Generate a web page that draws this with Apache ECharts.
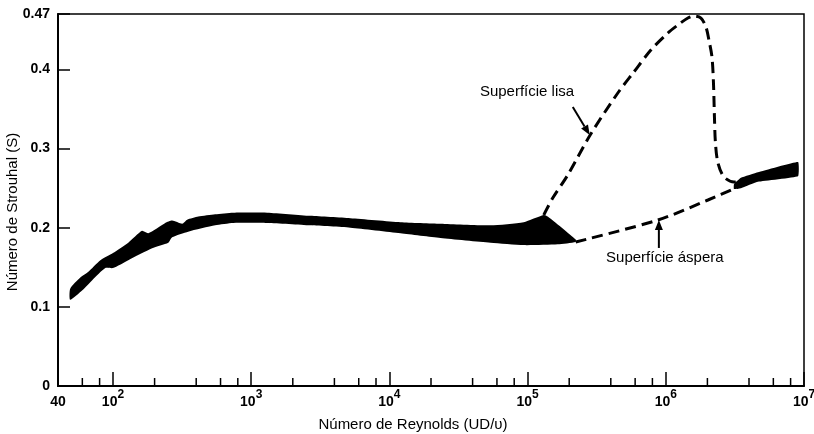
<!DOCTYPE html>
<html><head><meta charset="utf-8">
<script src="https://cdn.jsdelivr.net/npm/echarts@6/dist/echarts.min.js"></script>
<style>html,body{margin:0;padding:0;background:#fff}#c{width:814px;height:434px}</style>
</head><body><div id="c"></div>
<script>
// ---- data (Reynolds number, Strouhal number) ----
const bandUpperRe = [49, 58, 66, 81, 100, 129, 162, 180, 239, 268, 317, 344, 414, 549, 741, 1308, 2680, 5222, 12030, 23450, 53980, 93700, 130800, 139900, 222900];
const bandUpperS  = [0.123, 0.137, 0.144, 0.159, 0.168, 0.181, 0.196, 0.193, 0.206, 0.209, 0.205, 0.210, 0.214, 0.217, 0.219, 0.219, 0.215, 0.212, 0.207, 0.205, 0.203, 0.207, 0.216, 0.214, 0.185];
const bandLowerRe = [49, 60, 71, 88, 100, 129, 192, 251, 268, 350, 549, 741, 1308, 2680, 5222, 12030, 23450, 53980, 93700, 165200, 222900];
const bandLowerS  = [0.109, 0.121, 0.134, 0.149, 0.149, 0.159, 0.174, 0.181, 0.188, 0.195, 0.203, 0.206, 0.206, 0.203, 0.200, 0.193, 0.187, 0.181, 0.178, 0.179, 0.182];

const highBandRe     = [3114000, 3499000, 4647000, 9058000];
const highBandUpperS = [0.255, 0.263, 0.270, 0.283];
const highBandLowerS = [0.249, 0.250, 0.258, 0.265];

const smoothRe = [130900, 152000, 195200, 286500, 449600, 587100, 779700, 1035000, 1223000, 1445000, 1597000, 1796000, 1952000, 2052000, 2158000, 2213000, 2249000, 2287000, 2385000, 2635000, 3114000, 3499000];
const smoothS  = [0.216, 0.2375, 0.2666, 0.3184, 0.3702, 0.3967, 0.4245, 0.446, 0.4561, 0.4649, 0.4675, 0.4649, 0.4536, 0.4371, 0.4157, 0.3828, 0.3399, 0.307, 0.2817, 0.2641, 0.2577, 0.259];

const roughRe = [222900, 876700, 2018000, 3329000];
const roughS  = [0.182, 0.2097, 0.235, 0.2514];

const minorTickRe = [60, 80, 200, 400, 600, 800, 2000, 4000, 6000, 8000, 20000, 40000, 60000, 80000,
  200000, 400000, 600000, 800000, 2000000, 4000000, 6000000, 8000000];

const xTickValues = [40, 1e2, 1e3, 1e4, 1e5, 1e6, 1e7];
const xTickLabels = ['40', '10|2', '10|3', '10|4', '10|5', '10|6', '10|7'];
const yTickValues = [0, 0.1, 0.2, 0.3, 0.4, 0.47];
const yTickLabels = ['0', '0.1', '0.2', '0.3', '0.4', '0.47'];

const annoLabels  = ['Superfície lisa', 'Superfície áspera'];
const annoRe      = [99000, 984000];
const annoS       = [0.3714, 0.1617];
const arrowFromRe = [212300, 891000];
const arrowFromS  = [0.3525, 0.1744];
const arrowToRe   = [281600, 891000];
const arrowToS    = [0.3171, 0.2097];

const FONT = '"Liberation Sans", Arial, Helvetica, sans-serif';

function nearestIdx(arr, v, log) {
  let best = 0, bd = Infinity;
  arr.forEach((a, i) => { const d = log ? Math.abs(Math.log10(a) - Math.log10(v)) : Math.abs(a - v); if (d < bd) { bd = d; best = i; } });
  return best;
}

function polygonItem(upRe, upS, loRe, loS, sm) {
  return function (params, api) {
    const pts = [];
    for (let i = 0; i < upRe.length; i++) pts.push(api.coord([upRe[i], upS[i]]));
    for (let i = loRe.length - 1; i >= 0; i--) pts.push(api.coord([loRe[i], loS[i]]));
    return { type: 'polygon', shape: { points: pts, smooth: sm }, style: { fill: '#000' } };
  };
}

const chart = echarts.init(document.getElementById('c'), null, { renderer: 'canvas' });
chart.setOption({
  animation: false,
  backgroundColor: '#fff',
  grid: { left: 58, right: 10, top: 14, bottom: 48, containLabel: false, outerBoundsMode: 'none',
    show: true, borderColor: '#000', borderWidth: 1.5, backgroundColor: 'transparent' },
  xAxis: {
    type: 'log', logBase: 10, min: 40, max: 1e7,
    name: 'Número de Reynolds (UD/υ)', nameLocation: 'middle', nameGap: 31, nameMoveOverlap: false,
    nameTextStyle: { fontFamily: FONT, fontSize: 15, color: '#000', padding: [0, 36, 0, 0] },
    axisLine: { show: true, lineStyle: { color: '#000', width: 2 } },
    axisTick: { show: true, inside: true, length: 14, lineStyle: { color: '#000', width: 1.5 } },
    minorTick: { show: false },
    splitLine: { show: false },
    axisLabel: {
      show: true, margin: 9, showMinLabel: true, showMaxLabel: true,
      formatter: function (v) {
        const lab = xTickLabels[nearestIdx(xTickValues, v, true)];
        const parts = lab.split('|');
        if (parts.length === 1) return '{c|' + parts[0] + '}';
        return '{b|' + parts[0] + '}{s|' + parts[1] + '}';
      },
      rich: {
        b: { fontFamily: FONT, fontSize: 14, fontWeight: 'bold', lineHeight: 14, color: '#000', verticalAlign: 'bottom' },
        c: { fontFamily: FONT, fontSize: 14, fontWeight: 'bold', lineHeight: 14, color: '#000', verticalAlign: 'bottom', padding: [6, 0, 0, 0] },
        s: { fontFamily: FONT, fontSize: 12, fontWeight: 'bold', lineHeight: 12, color: '#000', verticalAlign: 'bottom', padding: [0, 0, 8, 0] }
      }
    }
  },
  yAxis: {
    type: 'value', min: 0, max: 0.47, interval: 0.1,
    name: 'Número de Strouhal (S)', nameLocation: 'middle', nameGap: 38, nameMoveOverlap: false,
    nameTextStyle: { fontFamily: FONT, fontSize: 15, color: '#000', padding: [0, 24, 0, 0] },
    axisLine: { show: true, lineStyle: { color: '#000', width: 2 } },
    axisTick: { show: true, inside: true, length: 12, lineStyle: { color: '#000', width: 1.5 } },
    splitLine: { show: false },
    axisLabel: {
      show: true, margin: 8, showMinLabel: true, showMaxLabel: true,
      fontFamily: FONT, fontSize: 14, fontWeight: 'bold', color: '#000',
      formatter: function (v) { return yTickLabels[nearestIdx(yTickValues, v, false)]; }
    }
  },
  series: [
    {
      type: 'custom', name: 'band', silent: true,
      data: [[1000, 0.2]],
      renderItem: polygonItem(bandUpperRe, bandUpperS, bandLowerRe, bandLowerS, 0.2),
      z: 3
    },
    {
      type: 'custom', name: 'band2', silent: true,
      data: [[5e6, 0.27]],
      renderItem: polygonItem(highBandRe, highBandUpperS, highBandRe, highBandLowerS, 0.1),
      z: 3
    },
    {
      type: 'line', name: 'Superfície lisa', silent: true,
      data: smoothRe.map((r, i) => [r, smoothS[i]]),
      symbol: 'none', smooth: 0.3,
      lineStyle: { color: '#000', width: 3, type: [11, 6] },
      z: 2
    },
    {
      type: 'line', name: 'Superfície áspera', silent: true,
      data: roughRe.map((r, i) => [r, roughS[i]]),
      symbol: 'none', smooth: 0.3,
      lineStyle: { color: '#000', width: 3, type: [11, 6] },
      z: 2
    },
    {
      type: 'custom', name: 'minorTicks', silent: true,
      data: minorTickRe.map(r => [r, 0]),
      renderItem: function (params, api) {
        const p = api.coord([api.value(0), 0]);
        return { type: 'line', shape: { x1: p[0], y1: p[1], x2: p[0], y2: p[1] - 8 }, style: { stroke: '#000', lineWidth: 1.5 } };
      },
      z: 4
    },
    {
      type: 'custom', name: 'annotations', silent: true,
      data: annoLabels.map((_, i) => [annoRe[i], annoS[i]]),
      renderItem: function (params, api) {
        const i = params.dataIndex;
        const t = api.coord([annoRe[i], annoS[i]]);
        const a = api.coord([arrowFromRe[i], arrowFromS[i]]);
        const b = api.coord([arrowToRe[i], arrowToS[i]]);
        const dx = b[0] - a[0], dy = b[1] - a[1], L = Math.hypot(dx, dy), ux = dx / L, uy = dy / L;
        const hl = 10, hw = 4;
        const base = [b[0] - ux * hl, b[1] - uy * hl];
        return {
          type: 'group', children: [
            { type: 'text', style: { text: annoLabels[i], x: t[0], y: t[1], align: 'center', verticalAlign: 'middle', font: '15px ' + FONT, fill: '#000' } },
            { type: 'line', shape: { x1: a[0], y1: a[1], x2: base[0], y2: base[1] }, style: { stroke: '#000', lineWidth: 2 } },
            { type: 'polygon', shape: { points: [b, [base[0] - uy * hw, base[1] + ux * hw], [base[0] + uy * hw, base[1] - ux * hw]] }, style: { fill: '#000' } }
          ]
        };
      },
      z: 5
    }
  ]
});
</script></body></html>
